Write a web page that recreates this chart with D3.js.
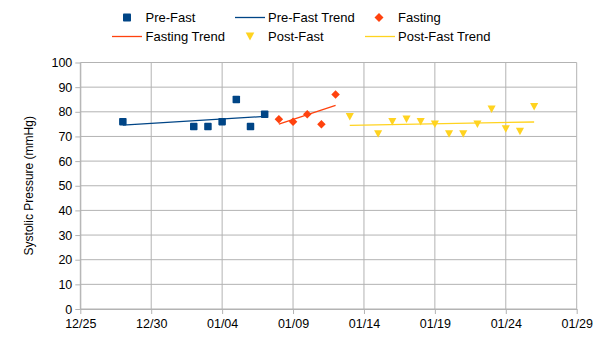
<!DOCTYPE html>
<html>
<head>
<meta charset="utf-8">
<script src="https://cdn.jsdelivr.net/npm/d3@7"></script>
<style>
  html, body { margin: 0; padding: 0; background: #fff; }
  svg { display: block; font-family: "Liberation Sans", Arial, sans-serif; }
</style>
</head>
<body>
<svg id="chart" width="605" height="341"></svg>
<script>
// ---- Data ----
const preFastDates   = ["12/28", "01/02", "01/03", "01/04", "01/05", "01/06", "01/07"];
const preFastValues  = [76, 74, 74, 76, 85, 74, 79];
const fastingDates   = ["01/08", "01/09", "01/10", "01/11", "01/12"];
const fastingValues  = [77, 76, 79, 75, 87];
const postFastDates  = ["01/13", "01/15", "01/16", "01/17", "01/18", "01/19", "01/20", "01/21", "01/22", "01/23", "01/24", "01/25", "01/26"];
const postFastValues = [78, 71, 76, 77, 76, 75, 71, 71, 75, 81, 73, 72, 82];
const xTickLabels    = ["12/25", "12/30", "01/04", "01/09", "01/14", "01/19", "01/24", "01/29"];
const yTickValues    = [0, 10, 20, 30, 40, 50, 60, 70, 80, 90, 100];
const seriesNames    = ["Pre-Fast", "Fasting", "Post-Fast"];
const seriesColors   = ["#004586", "#ff420e", "#ffd320"];

function parseDate(s) {
  const [m, d] = s.split("/").map(Number);
  const year = m === 12 ? 2023 : 2024;
  return new Date(Date.UTC(year, m - 1, d));
}

const series = [
  { name: seriesNames[0], color: seriesColors[0], shape: "square",   pts: preFastDates.map((d, i) => ({ x: parseDate(d), y: preFastValues[i] })) },
  { name: seriesNames[1], color: seriesColors[1], shape: "diamond",  pts: fastingDates.map((d, i) => ({ x: parseDate(d), y: fastingValues[i] })) },
  { name: seriesNames[2], color: seriesColors[2], shape: "triangle", pts: postFastDates.map((d, i) => ({ x: parseDate(d), y: postFastValues[i] })) }
];

// ---- Layout ----
const svg = d3.select("#chart");
const L = 80.3, R = 576.7, T = 62.5, B = 309;

const xTicks = xTickLabels.map(parseDate);
const x = d3.scaleUtc().domain([xTicks[0], xTicks[xTicks.length - 1]]).range([L, R]);
const y = d3.scaleLinear().domain([0, 100]).range([B, T]);

const gridColor = "#b3b3b3";

// grid
const grid = svg.append("g");
grid.selectAll("line.h").data(yTickValues).join("line")
  .attr("x1", L).attr("x2", R)
  .attr("y1", d => y(d)).attr("y2", d => y(d))
  .attr("stroke", gridColor).attr("stroke-width", 1);
grid.selectAll("line.v").data(xTicks).join("line")
  .attr("x1", d => x(d)).attr("x2", d => x(d))
  .attr("y1", T).attr("y2", B)
  .attr("stroke", gridColor).attr("stroke-width", 1);

// axes
const fmt = d3.utcFormat("%m/%d");
const xAxis = svg.append("g").attr("transform", `translate(0,${B})`)
  .call(d3.axisBottom(x).tickValues(xTicks).tickFormat(fmt).tickSize(5).tickSizeOuter(0));
const yAxis = svg.append("g").attr("transform", `translate(${L},0)`)
  .call(d3.axisLeft(y).tickValues(yTickValues).tickSize(5).tickSizeOuter(0));

[xAxis, yAxis].forEach(g => {
  g.select(".domain").attr("stroke", gridColor);
  g.selectAll(".tick line").attr("stroke", gridColor);
  g.selectAll(".tick text")
    .attr("fill", "#000")
    .style("font-family", '"Liberation Sans", Arial, sans-serif')
    .style("font-size", "12.5px");
});
xAxis.selectAll(".tick text").attr("dy", "1.05em").attr("y", 6);
yAxis.selectAll(".tick text").attr("x", -8);

// y-axis title
svg.append("text")
  .attr("transform", `translate(33,${(T + B) / 2}) rotate(-90)`)
  .attr("text-anchor", "middle")
  .style("font-size", "12px")
  .attr("fill", "#000")
  .text("Systolic Pressure (mmHg)");

// symbols
function drawMarker(g, shape, cx, cy, color, s) {
  if (shape === "square") {
    g.append("rect").attr("x", cx - s / 2).attr("y", cy - s / 2)
      .attr("width", s).attr("height", s).attr("rx", 0.8).attr("fill", color);
  } else if (shape === "diamond") {
    const r = s / 2 + 0.5;
    g.append("path").attr("d", `M${cx},${cy - r}L${cx + r},${cy}L${cx},${cy + r}L${cx - r},${cy}Z`).attr("fill", color);
  } else {
    const w = s / 2 + 0.3;
    g.append("path").attr("d", `M${cx - w},${cy - s / 2}L${cx + w},${cy - s / 2}L${cx},${cy + s / 2}Z`).attr("fill", color);
  }
}

// trend lines (least-squares over each series' own range)
function linReg(pts) {
  const xs = pts.map(p => +p.x), ys = pts.map(p => p.y);
  const mx = d3.mean(xs), my = d3.mean(ys);
  const sxy = d3.sum(xs, (v, i) => (v - mx) * (ys[i] - my));
  const sxx = d3.sum(xs, v => (v - mx) * (v - mx));
  const b = sxy / sxx, a = my - b * mx;
  return v => a + b * v;
}

const trendG = svg.append("g");
const marksG = svg.append("g");
series.forEach(s => {
  const f = linReg(s.pts);
  const ext = d3.extent(s.pts, p => +p.x);
  trendG.append("line")
    .attr("x1", x(new Date(ext[0]))).attr("y1", y(f(ext[0])))
    .attr("x2", x(new Date(ext[1]))).attr("y2", y(f(ext[1])))
    .attr("stroke", s.color).attr("stroke-width", 1.3);
  s.pts.forEach(p => drawMarker(marksG, s.shape, x(p.x), y(p.y), s.color, 7.5));
});

// legend
const legendItems = [
  { type: "marker", s: series[0], label: "Pre-Fast",         mx: 127,   tx: 145.5, row: 0 },
  { type: "line",   s: series[0], label: "Pre-Fast Trend",   mx: 235,   tx: 268,   row: 0 },
  { type: "marker", s: series[1], label: "Fasting",          mx: 379,   tx: 398,   row: 0 },
  { type: "line",   s: series[1], label: "Fasting Trend",    mx: 112,   tx: 145.5, row: 1 },
  { type: "marker", s: series[2], label: "Post-Fast",        mx: 250,   tx: 268,   row: 1 },
  { type: "line",   s: series[2], label: "Post-Fast Trend",  mx: 365,   tx: 398,   row: 1 }
];
const rowY = [17.5, 36.5];
const lg = svg.append("g");
legendItems.forEach(it => {
  const cy = rowY[it.row];
  if (it.type === "marker") {
    drawMarker(lg, it.s.shape, it.mx, cy, it.s.color, 8);
  } else {
    lg.append("line").attr("x1", it.mx).attr("x2", it.mx + 30)
      .attr("y1", cy).attr("y2", cy)
      .attr("stroke", it.s.color).attr("stroke-width", 1.3);
  }
  lg.append("text").attr("x", it.tx).attr("y", cy).attr("dy", "0.36em")
    .style("font-size", "13px").attr("fill", "#000").text(it.label);
});
</script>
</body>
</html>
